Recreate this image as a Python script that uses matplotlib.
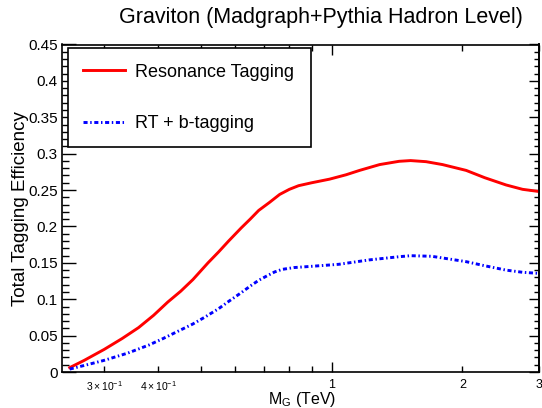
import matplotlib
matplotlib.use("Agg")
import matplotlib.pyplot as plt
from matplotlib.ticker import FixedLocator, NullFormatter

plt.rcParams['font.family'] = ['Liberation Sans', 'DejaVu Sans']
plt.rcParams['mathtext.fontset'] = 'custom'
plt.rcParams['mathtext.rm'] = 'Liberation Sans'
plt.rcParams['mathtext.it'] = 'Liberation Sans:italic'

# graviton mass (TeV) and efficiency
mass_rt = [0.25, 0.27, 0.30, 0.33, 0.36, 0.39, 0.42, 0.45, 0.48, 0.52, 0.55, 0.58,
           0.62, 0.65, 0.68, 0.72, 0.76, 0.80, 0.84, 0.90, 0.99, 1.08, 1.16, 1.29,
           1.43, 1.52, 1.65, 1.80, 2.04, 2.25, 2.52, 2.75, 3.00]
eff_rt = [0.006, 0.016, 0.031, 0.046, 0.061, 0.078, 0.096, 0.111, 0.127, 0.150, 0.165, 0.180,
          0.198, 0.210, 0.222, 0.233, 0.244, 0.251, 0.256, 0.260, 0.265, 0.271, 0.277, 0.285,
          0.2895, 0.2905, 0.289, 0.285, 0.277, 0.267, 0.257, 0.251, 0.248]

mass_rtb = [0.25, 0.27, 0.30, 0.34, 0.38, 0.41, 0.44, 0.48, 0.51, 0.55, 0.58, 0.62,
            0.65, 0.68, 0.71, 0.74, 0.77, 0.82, 0.89, 1.04, 1.22, 1.43, 1.52, 1.70,
            2.04, 2.25, 2.52, 2.75, 3.00]
eff_rtb = [0.004, 0.009, 0.016, 0.026, 0.037, 0.046, 0.055, 0.066, 0.075, 0.087, 0.097, 0.109,
           0.118, 0.126, 0.132, 0.1375, 0.141, 0.1435, 0.145, 0.148, 0.154, 0.1584, 0.1598, 0.159,
           0.1516, 0.146, 0.140, 0.137, 0.1355]

xmajor = [1.0]
xminor = [0.3, 0.4, 0.5, 0.6, 0.7, 0.8, 0.9, 2.0, 3.0]
xlabels = [(0.3, r'$3\times10^{-1}$'), (0.4, r'$4\times10^{-1}$'), (1.0, '1'), (2.0, '2'), (3.0, '3')]
yticks = [0, 0.05, 0.1, 0.15, 0.2, 0.25, 0.3, 0.35, 0.4, 0.45]
ylabels = ['0', '0.05', '0.1', '0.15', '0.2', '0.25', '0.3', '0.35', '0.4', '0.45']
yminor = [i / 100 for i in range(46)]

fig = plt.figure(figsize=(5.42, 4.08), dpi=100)
ax = fig.add_axes([62 / 542, 36 / 408, 477 / 542, 327.5 / 408])

ax.plot(mass_rt, eff_rt, color='red', lw=2.1, label='Resonance Tagging')
ax.plot(mass_rtb, eff_rtb, color='blue', lw=2.1, linestyle=(0, (1.4, 0.9, 0.5, 0.9)),
        label='RT + b-tagging')

ax.set_xscale('log')
ax.set_xlim(0.24, 3.0)
ax.set_ylim(0, 0.45)

# log x axis, ROOT style
ax.xaxis.set_major_locator(FixedLocator(xmajor))
ax.xaxis.set_minor_locator(FixedLocator(xminor))
ax.xaxis.set_major_formatter(NullFormatter())
ax.xaxis.set_minor_formatter(NullFormatter())
ax.tick_params(axis='x', which='major', direction='in', length=7, width=1, top=True)
ax.tick_params(axis='x', which='minor', direction='in', length=4.5, width=1, top=True)
tr = ax.get_xaxis_transform()
for v, s in xlabels:
    fs = 7.5 if 'times' in s else 9
    ax.text(v, -0.022, s, transform=tr, ha='center', va='top', fontsize=fs)

# y axis
ax.set_yticks(yticks)
ax.set_yticklabels(ylabels)
ax.set_yticks(yminor, minor=True)
ax.tick_params(axis='y', which='major', direction='in', length=10, width=1, labelsize=11, pad=3)
ax.tick_params(axis='y', which='minor', direction='in', length=5, width=1)

# right axis ticks are shorter
rax = ax.secondary_yaxis('right')
rax.set_yticks(yticks)
rax.set_yticks(yminor, minor=True)
rax.yaxis.set_major_formatter(NullFormatter())
rax.tick_params(axis='y', which='major', direction='in', length=7, width=1)
rax.tick_params(axis='y', which='minor', direction='in', length=3.5, width=1)
rax.spines['right'].set_linewidth(1.2)

for sp in ax.spines.values():
    sp.set_linewidth(1.2)

ax.set_ylabel('Total Tagging Efficiency', fontsize=13.5)
ax.yaxis.set_label_coords(-0.07, 0.5)
fig.text(302 / 542, 8.5 / 408, r'M$_{\rm G}$ (TeV)', ha='center', va='center', fontsize=11.5)
fig.text(321 / 542, 391 / 408, 'Graviton (Madgraph+Pythia Hadron Level)', ha='center',
         va='center', fontsize=15.5)

leg = ax.legend(loc='upper left', bbox_to_anchor=(6 / 477, 0.988, 243 / 477, 0.0),
                mode='expand', fontsize=13, frameon=True, fancybox=False,
                edgecolor='black', framealpha=1, handlelength=2.3, handletextpad=0.55,
                labelspacing=1.9, borderpad=0.85, borderaxespad=0)
leg.get_frame().set_linewidth(1.2)

fig.savefig('out.png', dpi=100)
